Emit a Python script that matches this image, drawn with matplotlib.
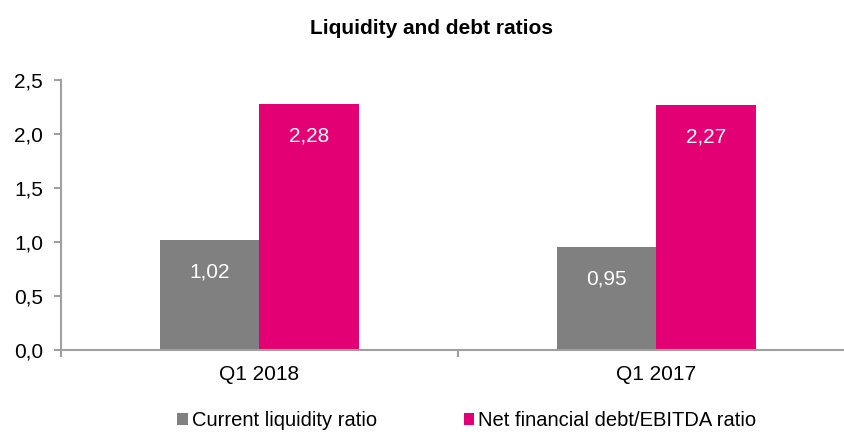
import matplotlib.pyplot as plt
import numpy as np

plt.rcParams['font.family'] = ['Liberation Sans', 'DejaVu Sans']

categories = ['Q1 2018', 'Q1 2017']
series_names = ['Current liquidity ratio', 'Net financial debt/EBITDA ratio']
current_liquidity = [1.02, 0.95]
net_debt_ebitda = [2.28, 2.27]
y_ticks = [0.0, 0.5, 1.0, 1.5, 2.0, 2.5]
y_tick_labels = ['0,0', '0,5', '1,0', '1,5', '2,0', '2,5']

colors = ['#808080', '#E20074']
axis_color = '#A0A0A0'

fig = plt.figure(figsize=(8.45, 4.34), dpi=100)
ax = fig.add_axes([61 / 845, 84 / 434, 794 / 845, 270 / 434])

x = np.arange(len(categories))
width = 0.25
bars1 = ax.bar(x - width / 2, current_liquidity, width, color=colors[0], label=series_names[0])
bars2 = ax.bar(x + width / 2, net_debt_ebitda, width, color=colors[1], label=series_names[1])

for bars in (bars1, bars2):
    for b in bars:
        val = b.get_height()
        ax.annotate(f'{val:.2f}'.replace('.', ','),
                    xy=(b.get_x() + b.get_width() / 2, val),
                    xytext=(0, -23), textcoords='offset points',
                    ha='center', va='center', color='white', fontsize=15)

ax.set_xlim(-0.5, len(categories) - 0.5)
ax.set_ylim(0, 2.5)
ax.set_yticks(y_ticks)
ax.set_yticklabels(y_tick_labels)

# category boundaries get the tick marks, labels sit in the middle
ax.set_xticks(np.arange(len(categories) + 1) - 0.5)
ax.set_xticklabels([])
ax.set_xticks(x, minor=True)
ax.set_xticklabels(categories, minor=True)
ax.tick_params(axis='x', which='major', length=5, color=axis_color, width=1.5)
ax.tick_params(axis='x', which='minor', length=0, pad=11, labelsize=15)
ax.tick_params(axis='y', length=5, color=axis_color, width=1.5, pad=8, labelsize=15)

for side in ['top', 'right']:
    ax.spines[side].set_visible(False)
for side in ['left', 'bottom']:
    ax.spines[side].set_color(axis_color)
    ax.spines[side].set_linewidth(1.5)

fig.text(432 / 845, 1 - 28 / 434, 'Liquidity and debt ratios', ha='center', va='center',
         fontsize=15, fontweight='bold')

fig.legend(loc='center', bbox_to_anchor=(467 / 845, 1 - 421 / 434), ncol=2, frameon=False,
           fontsize=14.5, handlelength=0.53, handleheight=0.53, handletextpad=0.2,
           columnspacing=4.3, borderpad=0)

fig.savefig('out.png', dpi=100)
